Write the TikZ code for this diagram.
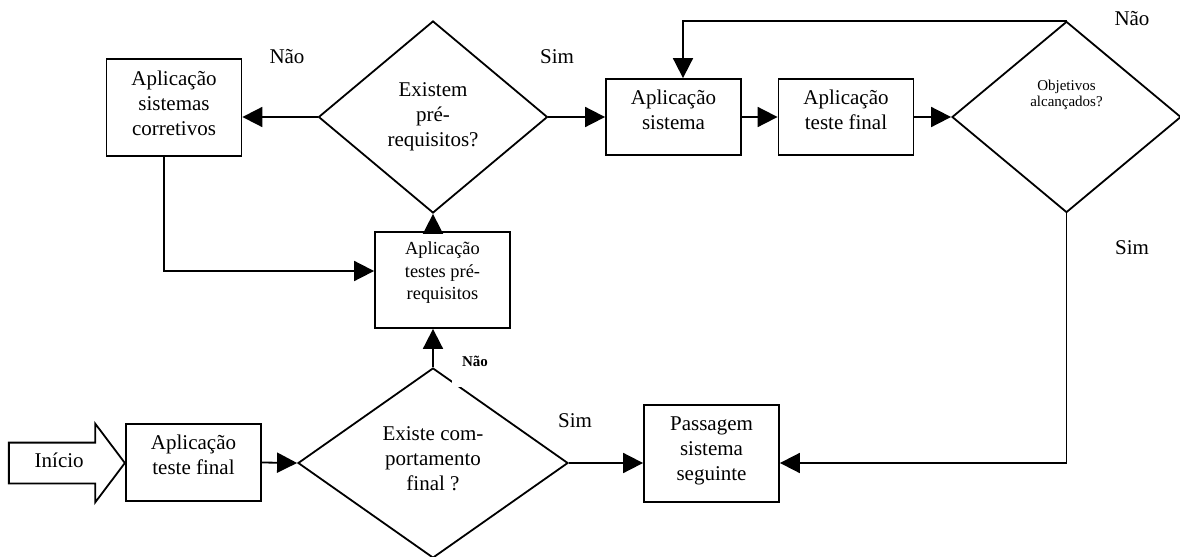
\documentclass[tikz,border=0pt]{standalone}
\usepackage{fontspec}
\setmainfont{Liberation Serif}
\usetikzlibrary{positioning}
\usetikzlibrary{arrows.meta}
\usetikzlibrary{shapes.geometric}
\usetikzlibrary{shapes.arrows}
\tikzstyle{every link} = []
\tikzstyle{link} = [-{Triangle[length=10pt,width=10pt]}, draw, line width=0.9pt, every link]
\tikzstyle{etapa} = [rectangle, draw, line width=0.9pt, align=center, inner sep=0pt, minimum width=67.5pt, font=\fontsize{10.5}{12.5}\selectfont]
\tikzstyle{decisao} = [diamond, draw, line width=0.9pt, align=center, inner sep=0pt, font=\fontsize{10.5}{12.5}\selectfont]
\tikzstyle{rotulo} = [font=\fontsize{10.5}{12.5}\selectfont]

\begin{document}
\begin{tikzpicture}[x=0.5pt, y=-0.5pt]
  \useasboundingbox (0,0) rectangle (1180,557);
  % linha de cima
  \node[etapa, minimum height=48.5pt] (corretivos) at (174,107.5) {Aplicação\\sistemas\\corretivos\\[-8pt]};
  \node[decisao, minimum width=114.5pt, minimum height=96pt] (prereq) at (433,117) {Existem\\pré-\\requisitos?};
  \node[etapa, minimum height=38pt] (sistema) at (673.5,117) {Aplicação\\sistema\\[-5pt]};
  \node[etapa, minimum height=38pt] (final) at (846,117) {Aplicação\\teste final\\[-5pt]};
  \node[decisao, minimum width=114.5pt, minimum height=95.5pt, font=\fontsize{7.5}{8}\selectfont] (objetivos) at (1066.5,117) {Objetivos\\alcançados?\\[16pt]};
  \node[etapa, minimum height=48pt, font=\fontsize{9.2}{11.25}\selectfont] (testes) at (442.5,280) {Aplicação\\testes pré-\\requisitos\\[-2pt]};

  % linha de baixo
  \node[single arrow, draw, line width=0.9pt, inner sep=0pt, text height=12.15pt, text depth=7.35pt,
        minimum height=58pt, single arrow head extend=9.5pt, single arrow tip angle=106,
        anchor=tip, rotulo] (inicio) at (126,463) {Início};
  \node[etapa, minimum height=38.5pt] (final0) at (193.5,462.5) {Aplicação\\teste final\\[-5pt]};
  \node[decisao, minimum width=135pt, minimum height=95pt] (comportamento) at (433,463) {Existe com-\\portamento\\final ?\\[-8pt]};
  \node[etapa, minimum height=48.5pt] (seguinte) at (711.5,453.5) {Passagem\\sistema\\seguinte\\[-7.5pt]};

  % respostas
  \node[rotulo] (nao1) at (287,57) {Não};
  \node[rotulo] (sim1) at (557,57) {Sim};
  \node[rotulo] (nao2) at (1132,19) {Não};
  \node[rotulo] (sim2) at (1132,248) {Sim};
  \node[rotulo] (sim3) at (575,421) {Sim};

  % ligacoes
  \draw[link] (prereq.west) -- (prereq.west -| corretivos.east);
  \draw[link] (prereq.east) -- (sistema.west);
  \draw[link] (sistema.east) -- (final.west);
  \draw[link] (final.east) -- (objetivos.west);
  \draw[link] (objetivos.north) -| ([xshift=4.75pt]sistema.north);
  \draw[link] (prereq.south |- testes.north) -- (prereq.south);
  \draw[link] ([xshift=-5pt]corretivos.south) |- ([yshift=4.5pt]testes.west);
  \draw[link] (final0.east) -- (comportamento.west);
  \draw[link] (comportamento.north) -- (comportamento.north |- testes.south);
  \draw[link] (comportamento.east) -- (comportamento.east -| seguinte.west);
  \draw[link] (objetivos.south) |- (comportamento.east -| seguinte.east);

  \node[fill=white, font=\bfseries\fontsize{7.5}{8}\selectfont, inner xsep=5pt, inner ysep=0pt,
        text depth=10.25pt, anchor=base] (nao3) at (475,366.5) {Não};
\end{tikzpicture}
\end{document}
